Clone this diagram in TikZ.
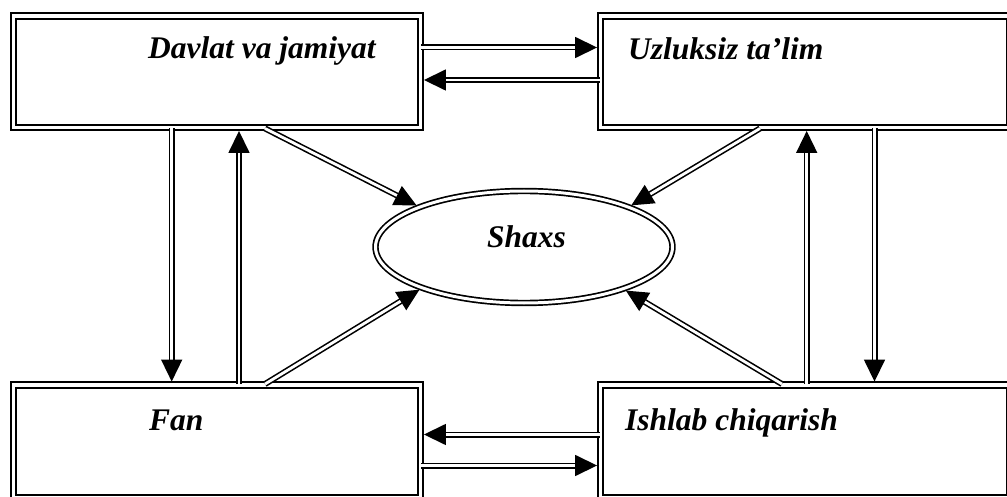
\documentclass[tikz,border=0pt]{standalone}
\usepackage{fontspec}
\setmainfont{Liberation Serif}
\usetikzlibrary{arrows.meta,shapes.geometric}
\begin{document}
\begin{tikzpicture}[x=1pt,y=-1pt,
  box/.style={draw,double,line width=1.9pt,double distance=3.4pt,inner sep=0pt,rectangle},
  oval/.style={draw,double,line width=1.7pt,double distance=3pt,inner sep=0pt,ellipse,minimum width=297pt,minimum height=112pt},
  lbl/.style={font=\fontsize{31.5}{36}\selectfont\bfseries\itshape,inner sep=0pt,anchor=base west},
  arr/.style={double,line width=1.6pt,double distance=2.8pt,shorten >=2.5pt,-{Triangle[length=22pt,width=21pt]}}]
\useasboundingbox (0,0) rectangle (1007,497);
\clip (0,0) rectangle (1007,497);
\node[box,minimum width=407pt,minimum height=111.5pt] (TL) at (217,71.75) {};
\node[box,minimum width=409.5pt,minimum height=111.5pt] (TR) at (805.25,71.75) {};
\node[box,minimum width=407pt,minimum height=112.5pt] (BL) at (217,441.25) {};
\node[box,minimum width=409.5pt,minimum height=112.5pt] (BR) at (805.25,441.25) {};
\node[oval] (S) at (524,247) {};
\node[lbl] (t1) at (148,59) {Davlat va jamiyat};
\node[lbl] (t2) at (628,60) {Uzluksiz ta’lim};
\node[lbl] (t3) at (149,430) {Fan};
\node[lbl] (t4) at (625,430) {Ishlab chiqarish};
\node[lbl] (t5) at (487,248) {Shaxs};
% horizontal
\draw[arr] (TL.east |- 0,47.5) -- (TR.west |- 0,47.5);
\draw[arr] (TR.west |- 0,80) -- (TL.east |- 0,80);
\draw[arr] (BR.west |- 0,434.5) -- (BL.east |- 0,434.5);
\draw[arr] (BL.east |- 0,465.5) -- (BR.west |- 0,465.5);
% vertical
\draw[arr] (TL.south -| 171.7,0) -- (BL.north -| 171.7,0);
\draw[arr] (BL.north -| 239,0) -- (TL.south -| 239,0);
\draw[arr] (BR.north -| 806.7,0) -- (TR.south -| 806.7,0);
\draw[arr] (TR.south -| 874.5,0) -- (BR.north -| 874.5,0);
% diagonal
\draw[arr] (TL.south -| 265,0) -- (S.159);
\draw[arr] (TR.south -| 760,0) -- (S.21);
\draw[arr] (BL.north -| 265,0) -- (S.202);
\draw[arr] (BR.north -| 782,0) -- (S.337);
\end{tikzpicture}
\end{document}
